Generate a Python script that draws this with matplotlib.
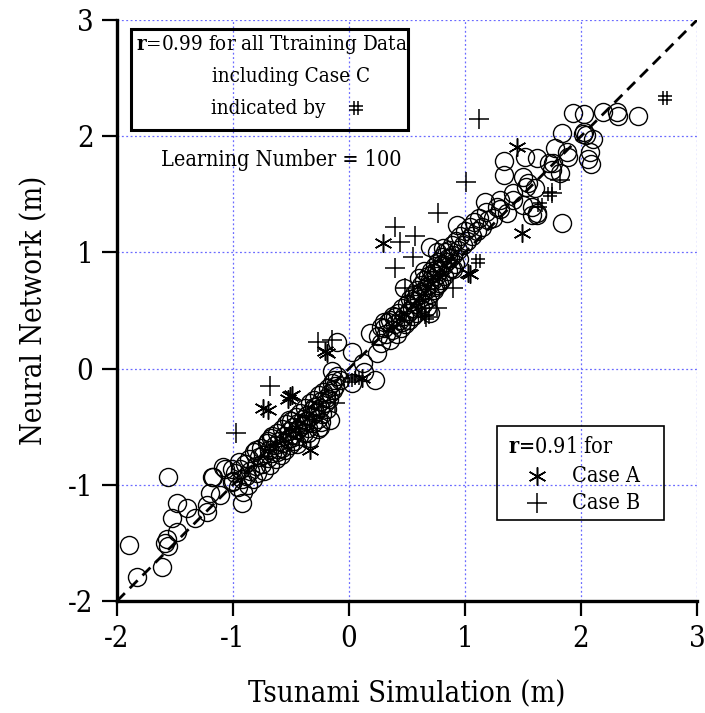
import matplotlib
matplotlib.use('Agg')
import matplotlib.pyplot as plt
from matplotlib.path import Path
from matplotlib.patches import Rectangle

plt.rcParams['font.family'] = ['DejaVu Serif']
plt.rcParams['font.stretch'] = 'condensed'
plt.rcParams['mathtext.fontset'] = 'dejavuserif'
plt.rcParams['axes.unicode_minus'] = False

# all training data (neural network vs simulation), circles
circle_pts = [
    # lower tail
    (-1.90, -1.52), (-1.83, -1.79), (-1.56, -0.93), (-1.61, -1.71), (-1.48, -1.16),
    (-1.40, -1.20), (-1.33, -1.29), (-1.53, -1.29), (-1.48, -1.41), (-1.57, -1.47),
    (-1.56, -1.53), (-1.59, -1.50), (-1.22, -1.23), (-1.22, -1.17), (-1.20, -1.07),
    (-1.17, -0.93), (-1.11, -1.09), (-1.07, -0.86), (-1.01, -0.98), (-0.92, -1.16),
    (-0.91, -1.06), (-1.18, -0.93), (-1.09, -0.85), (-1.01, -0.86),
    # dense band below zero
    (-1.00, -0.97), (-0.98, -0.90), (-0.96, -1.02), (-0.94, -0.86), (-0.92, -0.95),
    (-0.90, -0.82), (-0.89, -0.92), (-0.87, -1.00), (-0.86, -0.78), (-0.85, -0.88),
    (-0.83, -0.95), (-0.82, -0.72), (-0.80, -0.84), (-0.79, -0.90), (-0.78, -0.76),
    (-0.76, -0.68), (-0.75, -0.82), (-0.74, -0.74), (-0.73, -0.88), (-0.71, -0.64),
    (-0.70, -0.77), (-0.69, -0.70), (-0.68, -0.83), (-0.67, -0.60), (-0.66, -0.73),
    (-0.64, -0.66), (-0.63, -0.78), (-0.62, -0.55), (-0.61, -0.69), (-0.60, -0.62),
    (-0.59, -0.74), (-0.58, -0.52), (-0.57, -0.64), (-0.56, -0.58), (-0.55, -0.70),
    (-0.54, -0.48), (-0.53, -0.61), (-0.52, -0.54), (-0.51, -0.66), (-0.50, -0.45),
    (-0.49, -0.57), (-0.48, -0.50), (-0.47, -0.62), (-0.46, -0.42), (-0.45, -0.53),
    (-0.44, -0.47), (-0.43, -0.58), (-0.42, -0.38), (-0.41, -0.49), (-0.40, -0.43),
    (-0.39, -0.55), (-0.38, -0.34), (-0.37, -0.45), (-0.36, -0.40), (-0.35, -0.51),
    (-0.34, -0.30), (-0.33, -0.41), (-0.32, -0.36), (-0.31, -0.47), (-0.30, -0.27),
    (-0.29, -0.38), (-0.28, -0.32), (-0.27, -0.43), (-0.26, -0.23), (-0.25, -0.34),
    (-0.24, -0.28), (-0.23, -0.39), (-0.22, -0.20), (-0.21, -0.30), (-0.20, -0.25),
    (-0.19, -0.35), (-0.18, -0.17), (-0.17, -0.26), (-0.16, -0.21), (-0.15, -0.12),
    (-0.14, -0.18), (-0.13, -0.10), (-0.12, -0.15), (-0.10, -0.06), (-0.08, -0.10),
    (-0.62, -0.72), (-0.58, -0.68), (-0.50, -0.60), (-0.44, -0.52), (-0.38, -0.48),
    (-0.70, -0.62), (-0.66, -0.58), (-0.30, -0.33), (-0.35, -0.55), (-0.45, -0.65),
    (-0.27, -0.52), (-0.24, -0.46), (-0.52, -0.44), (-0.80, -0.70), (-0.95, -0.80),
    (-0.34, -0.60), (-0.25, -0.50), (-0.16, -0.44),
    # around zero
    (-0.15, -0.02), (0.03, 0.14), (0.12, 0.05), (0.22, -0.10), (0.03, -0.12),
    (0.18, 0.31), (0.24, 0.13), (-0.10, 0.23), (0.13, -0.03), (0.28, 0.36),
    # dense band 0.25 - 1.2
    (0.25, 0.28), (0.28, 0.22), (0.30, 0.35), (0.32, 0.30), (0.34, 0.40),
    (0.35, 0.25), (0.37, 0.33), (0.38, 0.45), (0.40, 0.38), (0.41, 0.30),
    (0.42, 0.48), (0.44, 0.42), (0.45, 0.35), (0.46, 0.52), (0.47, 0.45),
    (0.48, 0.38), (0.50, 0.56), (0.51, 0.48), (0.52, 0.42), (0.53, 0.60),
    (0.54, 0.52), (0.55, 0.45), (0.56, 0.64), (0.57, 0.56), (0.58, 0.48),
    (0.59, 0.68), (0.60, 0.60), (0.61, 0.52), (0.62, 0.72), (0.63, 0.64),
    (0.64, 0.56), (0.65, 0.76), (0.66, 0.68), (0.67, 0.60), (0.68, 0.80),
    (0.69, 0.72), (0.70, 0.64), (0.71, 0.84), (0.72, 0.76), (0.73, 0.68),
    (0.74, 0.88), (0.75, 0.80), (0.76, 0.72), (0.77, 0.92), (0.78, 0.84),
    (0.79, 0.76), (0.80, 0.96), (0.81, 0.88), (0.82, 0.80), (0.83, 1.00),
    (0.84, 0.92), (0.85, 0.84), (0.86, 1.02), (0.87, 0.95), (0.88, 0.87),
    (0.89, 1.06), (0.90, 0.98), (0.91, 0.90), (0.92, 1.10), (0.94, 1.02),
    (0.95, 0.94), (0.96, 1.14), (0.98, 1.06), (1.00, 1.18), (1.02, 1.10),
    (1.04, 1.22), (1.06, 1.14), (1.08, 1.26), (1.10, 1.18), (1.12, 1.30),
    (1.15, 1.22), (1.18, 1.35), (1.20, 1.28), (0.66, 0.70), (0.70, 0.76),
    (0.74, 0.70), (0.78, 0.74), (0.62, 0.66), (0.58, 0.62), (0.72, 0.82),
    (0.76, 0.86), (0.80, 0.90), (0.52, 0.50), (0.46, 0.40), (0.40, 0.44),
    (0.55, 0.58), (0.35, 0.42), (0.30, 0.40), (0.60, 0.78), (0.65, 0.84),
    (0.85, 0.95), (0.90, 0.86), (0.47, 0.69), (0.70, 1.05), (0.81, 1.04),
    (0.76, 1.00), (0.67, 0.53), (0.70, 0.48), (0.93, 1.24),
    # upper band
    (1.17, 1.43), (1.30, 1.45), (1.30, 1.37), (1.41, 1.45), (1.50, 1.41),
    (1.53, 1.56), (1.58, 1.32), (1.62, 1.34), (1.76, 1.77), (1.84, 1.25),
    (1.93, 2.20), (2.03, 2.19), (2.19, 2.21), (2.31, 2.21), (2.32, 2.17),
    (2.49, 2.17), (2.04, 2.01), (2.10, 1.98), (2.03, 2.04), (2.08, 1.86),
    (2.06, 1.80), (2.09, 1.76), (1.84, 2.03), (1.78, 1.90), (1.88, 1.86),
    (1.89, 1.82), (1.34, 1.79), (1.34, 1.67), (1.52, 1.82), (1.62, 1.81),
    (1.72, 1.77), (1.75, 1.71), (1.82, 1.68), (1.50, 1.65), (1.54, 1.60),
    (1.60, 1.55), (1.41, 1.51), (1.58, 1.39), (1.62, 1.32), (1.28, 1.39),
    (1.36, 1.34), (1.24, 1.30), (2.02, 2.02),
]

# Case A (asterisk)
caseA_x = [1.45, 1.49, 0.29, 1.03, -0.19, -0.74, -0.49, -0.34, -0.51, -0.53, -0.21, 1.04, 0.11, -0.70]
caseA_y = [1.91, 1.17, 1.08, 0.82, 0.13, -0.34, -0.23, -0.70, -0.24, -0.26, 0.15, 0.81, -0.08, -0.36]

# Case B (plus)
caseB_x = [1.12, 1.01, 0.77, 0.40, 0.44, 0.57, 0.40, 0.55, 0.66, 0.90, 0.76, 0.48, -0.68, -0.97, -0.27, -0.15, -0.12, 1.82, 1.75]
caseB_y = [2.15, 1.61, 1.34, 1.22, 1.09, 1.14, 0.87, 0.96, 0.44, 0.69, 0.52, 0.69, -0.15, -0.55, 0.23, 0.25, -0.30, 1.62, 1.51]

# Case C (hash)
caseC_x = [2.72, 1.73, 1.65, 1.11, 0.67, 0.64, 0.01, 0.07]
caseC_y = [2.33, 1.50, 1.41, 0.93, 0.44, 0.47, -0.10, -0.08]

circ_x = [p[0] for p in circle_pts]
circ_y = [p[1] for p in circle_pts]

hash_marker = Path(
    [(-0.35, -1), (-0.35, 1), (0.35, -1), (0.35, 1),
     (-1, -0.35), (1, -0.35), (-1, 0.35), (1, 0.35)],
    [Path.MOVETO, Path.LINETO] * 4)

fig = plt.figure(figsize=(7.05, 7.13), dpi=100)
ax = fig.add_axes([117 / 705, 1 - 601 / 713, 580 / 705, 581 / 713])

ax.set_xlim(-2, 3)
ax.set_ylim(-2, 3)
ax.set_xticks([-2, -1, 0, 1, 2, 3])
ax.set_yticks([-2, -1, 0, 1, 2, 3])
ax.grid(True, color='#6a6aff', linestyle=(0, (1.5, 2)), linewidth=0.9)
ax.set_axisbelow(True)

for s in ['top', 'right']:
    ax.spines[s].set_visible(False)
for s in ['left', 'bottom']:
    ax.spines[s].set_linewidth(2.4)
ax.tick_params(direction='out', length=11, width=1.6, labelsize=21, pad=6)

ax.plot([-2, 3], [-2, 3], color='black', linestyle=(0, (4, 2.5)), linewidth=2.0, zorder=2)

ax.plot(circ_x, circ_y, linestyle='none', marker='o', markersize=13,
        markerfacecolor='none', markeredgecolor='black', markeredgewidth=1.0, zorder=3)
ax.plot(caseA_x, caseA_y, linestyle='none', marker=(6, 2, 0), markersize=13,
        color='black', markeredgewidth=1.1, zorder=4)
ax.plot(caseB_x, caseB_y, linestyle='none', marker='+', markersize=14,
        color='black', markeredgewidth=1.1, zorder=4)
ax.plot(caseC_x, caseC_y, linestyle='none', marker=hash_marker, markersize=10,
        color='black', markeredgewidth=1.1, zorder=4)

ax.set_xlabel('Tsunami Simulation (m)', fontsize=21, labelpad=20)
ax.set_ylabel('Neural Network (m)', fontsize=21, labelpad=14)

# upper text box
box1 = Rectangle((131, 713 - 130), 277, 101, transform=None, fill=False,
                 edgecolor='black', linewidth=2.2, zorder=5)
fig.patches.append(box1)
fig.text(136 / 705, 1 - 45 / 713, r'$\mathbf{r}$=0.99 for all Ttraining Data',
         fontsize=14.8, va='center', ha='left')
fig.text(212 / 705, 1 - 76 / 713, 'including Case C', fontsize=14.8, va='center', ha='left')
fig.text(211 / 705, 1 - 108 / 713, 'indicated by', fontsize=14.8, va='center', ha='left')
ax.plot([356 / 705], [1 - 108 / 713], transform=fig.transFigure, marker=hash_marker,
        markersize=10, color='black', markeredgewidth=1.1, linestyle='none', clip_on=False)

fig.text(281 / 705, 1 - 160 / 713, 'Learning Number = 100', fontsize=15.5, va='center', ha='center')

# lower legend box
box2 = Rectangle((497, 713 - 520), 167, 94, transform=None, fill=False,
                 edgecolor='black', linewidth=1.2, zorder=5)
fig.patches.append(box2)
fig.text(508 / 705, 1 - 447 / 713, r'$\mathbf{r}$=0.91 for', fontsize=15.5, va='center', ha='left')
fig.text(572 / 705, 1 - 476 / 713, 'Case A', fontsize=15.5, va='center', ha='left')
fig.text(572 / 705, 1 - 503 / 713, 'Case B', fontsize=15.5, va='center', ha='left')
ax.plot([537 / 705], [1 - 476 / 713], transform=fig.transFigure, marker=(6, 2, 0),
        markersize=13, color='black', markeredgewidth=1.1, linestyle='none', clip_on=False)
ax.plot([537 / 705], [1 - 503 / 713], transform=fig.transFigure, marker='+',
        markersize=14, color='black', markeredgewidth=1.1, linestyle='none', clip_on=False)

fig.savefig('out.png', dpi=100)
